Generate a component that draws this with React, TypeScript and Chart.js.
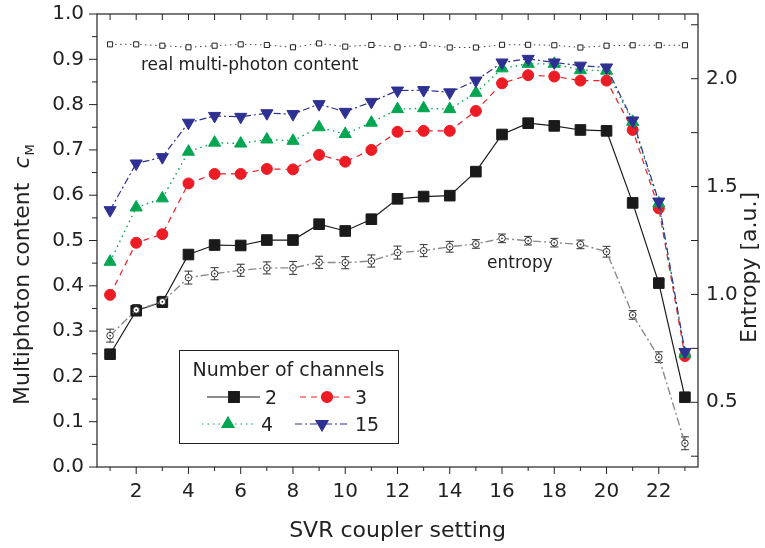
import React, { useEffect, useRef } from 'react';
import { Chart, registerables } from 'chart.js';
import { drawPoint } from 'chart.js/helpers';

Chart.register(...registerables);

// ---------- data ----------
const settings = [1, 2, 3, 4, 5, 6, 7, 8, 9, 10, 11, 12, 13, 14, 15, 16, 17, 18, 19, 20, 21, 22, 23];
const ch2 = [0.249, 0.345, 0.364, 0.469, 0.490, 0.489, 0.501, 0.501, 0.536, 0.521, 0.547, 0.592, 0.597, 0.599, 0.652, 0.734, 0.759, 0.753, 0.744, 0.742, 0.583, 0.406, 0.154];
const ch3 = [0.380, 0.495, 0.514, 0.626, 0.647, 0.647, 0.658, 0.657, 0.689, 0.674, 0.700, 0.740, 0.742, 0.742, 0.786, 0.847, 0.865, 0.862, 0.853, 0.853, 0.744, 0.571, 0.245];
const ch4 = [0.453, 0.573, 0.593, 0.696, 0.716, 0.714, 0.723, 0.720, 0.750, 0.735, 0.760, 0.790, 0.792, 0.790, 0.826, 0.880, 0.890, 0.890, 0.876, 0.875, 0.762, 0.582, 0.250];
const ch15 = [0.567, 0.670, 0.684, 0.760, 0.775, 0.773, 0.781, 0.779, 0.801, 0.784, 0.806, 0.831, 0.832, 0.827, 0.853, 0.893, 0.901, 0.893, 0.886, 0.882, 0.765, 0.586, 0.254];
const realContent = [0.933, 0.933, 0.930, 0.9265, 0.930, 0.933, 0.9316, 0.9265, 0.935, 0.928, 0.9316, 0.9265, 0.932, 0.926, 0.926, 0.932, 0.932, 0.931, 0.926, 0.930, 0.931, 0.931, 0.931];
const entropy = [0.809, 0.928, 0.966, 1.078, 1.096, 1.112, 1.123, 1.123, 1.149, 1.147, 1.155, 1.194, 1.203, 1.221, 1.234, 1.260, 1.249, 1.240, 1.232, 1.198, 0.905, 0.709, 0.310];
const entropyErr = [0.03, 0.025, 0.025, 0.03, 0.028, 0.028, 0.028, 0.03, 0.028, 0.028, 0.028, 0.03, 0.028, 0.025, 0.02, 0.02, 0.02, 0.02, 0.02, 0.025, 0.02, 0.025, 0.03];

// ---------- ticks ----------
const xLabelTicks = [2, 4, 6, 8, 10, 12, 14, 16, 18, 20, 22];
const xMinorTicks = [1, 3, 5, 7, 9, 11, 13, 15, 17, 19, 21, 23];
const leftLabelTicks = [0, 0.1, 0.2, 0.3, 0.4, 0.5, 0.6, 0.7, 0.8, 0.9, 1.0];
const leftMinorTicks = [0.05, 0.15, 0.25, 0.35, 0.45, 0.55, 0.65, 0.75, 0.85, 0.95];
const rightLabelTicks = [0.5, 1.0, 1.5, 2.0];
const rightMinorTicks = [0.25, 0.75, 1.25, 1.75, 2.25];

const FONT = '"DejaVu Sans", sans-serif';
const TXT = '#222';
const BLUE = '#2E3192';
const RED = '#ED1C24';
const GREEN = '#00A651';
const BLACK = '#1a1a1a';
const GRAY = '#8a8a8a';

const pts = (vals: number[]) => settings.map((s, i) => ({ x: s, y: vals[i] }));

const legendItems = [
  { label: '2', color: BLACK, dash: [] as number[], style: 'rect', radius: 7.5, rot: 0, x0: 207, x1: 260, mx: 234, tx: 265, y: 397 },
  { label: '3', color: RED, dash: [6, 5], style: 'circle', radius: 5.5, rot: 0, x0: 300, x1: 350, mx: 327, tx: 355, y: 397 },
  { label: '4', color: GREEN, dash: [1.5, 4], style: 'triangle', radius: 7, rot: 0, x0: 202, x1: 255, mx: 228, tx: 261, y: 424 },
  { label: '15', color: BLUE, dash: [7, 3, 2, 3], style: 'triangle', radius: 7, rot: 180, x0: 295, x1: 350, mx: 322, tx: 355, y: 424 },
];

const zeroPad = (s: any) => { s.paddingTop = 0; s.paddingBottom = 0; s.paddingLeft = 0; s.paddingRight = 0; };

const decorPlugin = {
  id: 'decor',
  beforeDatasetsDraw(chart: any) {
    const ctx = chart.ctx;
    const y2 = chart.scales.y2;
    const meta = chart.getDatasetMeta(3);
    ctx.save();
    ctx.strokeStyle = '#333';
    ctx.lineWidth = 1;
    meta.data.forEach((el: any, i: number) => {
      const yt = y2.getPixelForValue(entropy[i] + entropyErr[i]);
      const yb = y2.getPixelForValue(entropy[i] - entropyErr[i]);
      ctx.beginPath();
      ctx.moveTo(el.x, yt); ctx.lineTo(el.x, yb);
      ctx.moveTo(el.x - 4, yt); ctx.lineTo(el.x + 4, yt);
      ctx.moveTo(el.x - 4, yb); ctx.lineTo(el.x + 4, yb);
      ctx.stroke();
    });
    ctx.restore();
  },
  afterDatasetsDraw(chart: any) {
    const ctx = chart.ctx;
    const meta = chart.getDatasetMeta(3);
    ctx.save();
    ctx.fillStyle = '#333';
    meta.data.forEach((el: any) => {
      ctx.beginPath();
      ctx.arc(el.x, el.y, 0.9, 0, Math.PI * 2);
      ctx.fill();
    });
    ctx.restore();
  },
  afterDraw(chart: any) {
    const ctx = chart.ctx;
    const { left, right, top, bottom } = chart.chartArea;
    const sx = chart.scales.x, sy = chart.scales.y, sy2 = chart.scales.y2;
    ctx.save();
    // frame
    ctx.strokeStyle = '#222';
    ctx.lineWidth = 1.2;
    ctx.strokeRect(left, top, right - left, bottom - top);
    ctx.lineWidth = 1;
    ctx.beginPath();
    xLabelTicks.forEach((v) => {
      const p = sx.getPixelForValue(v);
      ctx.moveTo(p, bottom); ctx.lineTo(p, bottom + 7);
      ctx.moveTo(p, top); ctx.lineTo(p, top + 6);
    });
    xMinorTicks.forEach((v) => {
      const p = sx.getPixelForValue(v);
      ctx.moveTo(p, bottom); ctx.lineTo(p, bottom + 4);
      ctx.moveTo(p, top); ctx.lineTo(p, top + 6);
    });
    leftLabelTicks.forEach((v) => {
      const p = sy.getPixelForValue(v);
      ctx.moveTo(left, p); ctx.lineTo(left - 8, p);
    });
    leftMinorTicks.forEach((v) => {
      const p = sy.getPixelForValue(v);
      ctx.moveTo(left, p); ctx.lineTo(left - 5, p);
    });
    [...rightLabelTicks, ...rightMinorTicks].forEach((v) => {
      const p = sy2.getPixelForValue(v);
      ctx.moveTo(right, p); ctx.lineTo(right - 7, p);
    });
    ctx.stroke();

    // annotations
    ctx.fillStyle = TXT;
    ctx.font = `17px ${FONT}`;
    ctx.textAlign = 'left';
    ctx.textBaseline = 'alphabetic';
    ctx.fillText('real multi-photon content', 141, 70);
    ctx.fillText('entropy', 487, 268);

    // x title
    ctx.font = `22px ${FONT}`;
    ctx.textAlign = 'center';
    ctx.fillText('SVR coupler setting', (left + right) / 2, 537);

    // left title
    ctx.save();
    ctx.translate(29, 405);
    ctx.rotate(-Math.PI / 2);
    ctx.textAlign = 'left';
    ctx.font = `22px ${FONT}`;
    const t1 = 'Multiphoton content  ';
    ctx.fillText(t1, 0, 0);
    let w = ctx.measureText(t1).width;
    ctx.font = `italic 22px ${FONT}`;
    ctx.fillText('c', w, 0);
    w += ctx.measureText('c').width;
    ctx.font = `13px ${FONT}`;
    ctx.fillText('M', w + 1, 5);
    ctx.restore();

    // right title
    ctx.save();
    ctx.translate(756, 343);
    ctx.rotate(-Math.PI / 2);
    ctx.textAlign = 'left';
    ctx.font = `22px ${FONT}`;
    ctx.fillText('Entropy [a.u.]', 0, 0);
    ctx.restore();

    // legend
    ctx.lineWidth = 1;
    ctx.strokeStyle = '#222';
    ctx.strokeRect(179.5, 350.5, 219, 93);
    ctx.font = `19px ${FONT}`;
    ctx.textAlign = 'center';
    ctx.fillStyle = TXT;
    ctx.fillText('Number of channels', 288.5, 376);
    legendItems.forEach((it) => {
      ctx.save();
      ctx.strokeStyle = it.color;
      ctx.lineWidth = 1.2;
      ctx.setLineDash(it.dash);
      ctx.beginPath();
      ctx.moveTo(it.x0, it.y); ctx.lineTo(it.x1, it.y);
      ctx.stroke();
      ctx.setLineDash([]);
      ctx.fillStyle = it.color;
      ctx.strokeStyle = it.color;
      drawPoint(ctx, { pointStyle: it.style as any, radius: it.radius, rotation: it.rot, borderWidth: 1 }, it.mx, it.y);
      ctx.restore();
      ctx.fillStyle = TXT;
      ctx.textAlign = 'left';
      ctx.font = `19px ${FONT}`;
      ctx.fillText(it.label, it.tx, it.y + 7);
    });
    ctx.restore();
  },
};

export default function App() {
  const ref = useRef<HTMLCanvasElement>(null);
  useEffect(() => {
    Chart.defaults.font.family = FONT;
    const chart = new Chart(ref.current as HTMLCanvasElement, {
      type: 'line',
      data: {
        datasets: [
          {
            label: '15', data: pts(ch15), yAxisID: 'y', borderColor: BLUE, backgroundColor: BLUE,
            borderWidth: 1.2, borderDash: [7, 3, 2, 3], pointStyle: 'triangle', pointRotation: 180,
            pointRadius: 7, pointBorderWidth: 1, pointBorderColor: BLUE, pointBackgroundColor: BLUE,
          } as any,
          {
            label: '4', data: pts(ch4), yAxisID: 'y', borderColor: GREEN, backgroundColor: GREEN,
            borderWidth: 1.4, borderDash: [1.5, 4], pointStyle: 'triangle',
            pointRadius: 7, pointBorderWidth: 1, pointBorderColor: GREEN, pointBackgroundColor: GREEN,
          },
          {
            label: '3', data: pts(ch3), yAxisID: 'y', borderColor: RED, backgroundColor: RED,
            borderWidth: 1.2, borderDash: [6, 5], pointStyle: 'circle',
            pointRadius: 5.5, pointBorderWidth: 1, pointBorderColor: RED, pointBackgroundColor: RED,
          },
          {
            label: 'entropy', data: pts(entropy), yAxisID: 'y2', borderColor: GRAY, backgroundColor: '#fff',
            borderWidth: 1.4, borderDash: [8, 3, 2, 3], pointStyle: 'circle',
            pointRadius: 3.3, pointBorderWidth: 1, pointBorderColor: '#333', pointBackgroundColor: '#fff',
          },
          {
            label: '2', data: pts(ch2), yAxisID: 'y', borderColor: BLACK, backgroundColor: BLACK,
            borderWidth: 1.2, pointStyle: 'rect',
            pointRadius: 7.5, pointBorderWidth: 1, pointBorderColor: BLACK, pointBackgroundColor: BLACK,
          },
          {
            label: 'real multi-photon content', data: pts(realContent), yAxisID: 'y', borderColor: '#444', backgroundColor: '#fff',
            borderWidth: 1, borderDash: [1.5, 3.5], pointStyle: 'rect',
            pointRadius: 3.6, pointBorderWidth: 1, pointBorderColor: '#222', pointBackgroundColor: '#fff',
          },
        ],
      },
      options: {
        animation: false,
        responsive: false,
        devicePixelRatio: 1,
        layout: { padding: { top: 14, left: 0, right: 0, bottom: 0 } },
        plugins: { legend: { display: false }, tooltip: { enabled: false } },
        elements: { line: { tension: 0 } },
        scales: {
          x: {
            type: 'linear', min: 0.5, max: 23.5,
            grid: { display: false, drawTicks: false }, border: { display: false },
            afterBuildTicks: (s: any) => { s.ticks = xLabelTicks.map((v) => ({ value: v })); },
            afterFit: (s: any) => { s.height = 81; zeroPad(s); },
            ticks: { padding: 13, color: TXT, font: { size: 20 }, maxRotation: 0, autoSkip: false, callback: (v: any) => String(v) },
          },
          y: {
            type: 'linear', position: 'left', min: 0, max: 1,
            grid: { display: false, drawTicks: false }, border: { display: false },
            afterBuildTicks: (s: any) => { s.ticks = leftLabelTicks.map((v) => ({ value: v })); },
            afterFit: (s: any) => { s.width = 97; zeroPad(s); },
            ticks: { padding: 13, color: TXT, font: { size: 20 }, autoSkip: false, callback: (v: any) => Number(v).toFixed(1) },
          },
          y2: {
            type: 'linear', position: 'right', min: 0.2, max: 2.3,
            grid: { display: false, drawTicks: false }, border: { display: false },
            afterBuildTicks: (s: any) => { s.ticks = rightLabelTicks.map((v) => ({ value: v })); },
            afterFit: (s: any) => { s.width = 67; zeroPad(s); },
            ticks: { padding: 8, color: TXT, font: { size: 20 }, autoSkip: false, callback: (v: any) => Number(v).toFixed(1) },
          },
        },
      },
      plugins: [decorPlugin],
    });
    return () => chart.destroy();
  }, []);
  return (
    <div style={{ position: 'absolute', left: 0, top: 0, width: 765, height: 548, background: '#fff' }}>
      <canvas ref={ref} width={765} height={548} style={{ display: 'block' }} />
    </div>
  );
}
